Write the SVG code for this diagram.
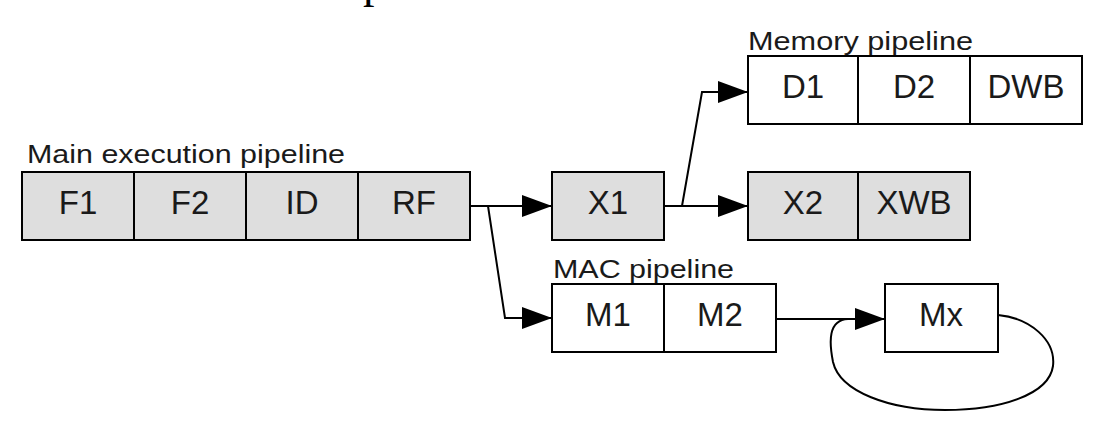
<svg xmlns="http://www.w3.org/2000/svg" width="1102" height="426" viewBox="0 0 1102 426">
<style>
.box{stroke:#000;stroke-width:2}
.g{fill:#dedede}
.w{fill:#fff}
.lbl{font-family:"Liberation Sans",Arial,sans-serif;font-size:33px;fill:#1a1a1a;text-anchor:middle}
.cap{font-family:"Liberation Sans",Arial,sans-serif;font-size:25px;fill:#1a1a1a}
.con{fill:none;stroke:#000;stroke-width:2}
</style>
<defs>
<marker id="ah" viewBox="0 0 30 22" refX="30" refY="11" markerWidth="30" markerHeight="22" markerUnits="userSpaceOnUse" orient="auto">
<path d="M0,0 L30,11 L0,22 z" fill="#000"/>
</marker>
</defs>
<rect width="1102" height="426" fill="#fff"/>
<text x="363" y="-3" font-family="'Liberation Serif',serif" font-size="46" fill="#000">p</text>
<text class="cap" x="27" y="163" textLength="318" lengthAdjust="spacingAndGlyphs">Main execution pipeline</text>
<text class="cap" x="748" y="50" textLength="225" lengthAdjust="spacingAndGlyphs">Memory pipeline</text>
<text class="cap" x="553" y="278" textLength="181" lengthAdjust="spacingAndGlyphs">MAC pipeline</text>
<g id="F1"><rect class="box g" x="22" y="172" width="112" height="68"/><text class="lbl" x="78" y="214">F1</text></g>
<g id="F2"><rect class="box g" x="134" y="172" width="112" height="68"/><text class="lbl" x="190" y="214">F2</text></g>
<g id="ID"><rect class="box g" x="246" y="172" width="112" height="68"/><text class="lbl" x="302" y="214">ID</text></g>
<g id="RF"><rect class="box g" x="358" y="172" width="112" height="68"/><text class="lbl" x="414" y="214">RF</text></g>
<g id="X1"><rect class="box g" x="552" y="172" width="112" height="68"/><text class="lbl" x="608" y="214">X1</text></g>
<g id="X2"><rect class="box g" x="748" y="172" width="110" height="68"/><text class="lbl" x="803" y="214">X2</text></g>
<g id="XWB"><rect class="box g" x="858" y="172" width="112" height="68"/><text class="lbl" x="914" y="214">XWB</text></g>
<g id="D1"><rect class="box w" x="748" y="56" width="110" height="68"/><text class="lbl" x="803" y="98">D1</text></g>
<g id="D2"><rect class="box w" x="858" y="56" width="112" height="68"/><text class="lbl" x="914" y="98">D2</text></g>
<g id="DWB"><rect class="box w" x="970" y="56" width="112" height="68"/><text class="lbl" x="1026" y="98">DWB</text></g>
<g id="M1"><rect class="box w" x="552" y="284" width="112" height="68"/><text class="lbl" x="608" y="326">M1</text></g>
<g id="M2"><rect class="box w" x="664" y="284" width="112" height="68"/><text class="lbl" x="720" y="326">M2</text></g>
<g id="Mx"><rect class="box w" x="885" y="284" width="113" height="68"/><text class="lbl" x="941" y="326">Mx</text></g>
<g id="connectors">
<path class="con" d="M470 206 H552" marker-end="url(#ah)"/>
<path class="con" d="M488 206 L505 318 H552" marker-end="url(#ah)"/>
<path class="con" d="M664 206 H748" marker-end="url(#ah)"/>
<path class="con" d="M682 206 L702 92 H748" marker-end="url(#ah)"/>
<path class="con" d="M776 319 H885" marker-end="url(#ah)"/>
<path class="con" d="M998 315 C1030 318 1056 340 1053 366 C1049 395 1000 410 945 410 C890 410 840 392 833 362 C829 342 828 320 848 319"/>
</g>
</svg>
